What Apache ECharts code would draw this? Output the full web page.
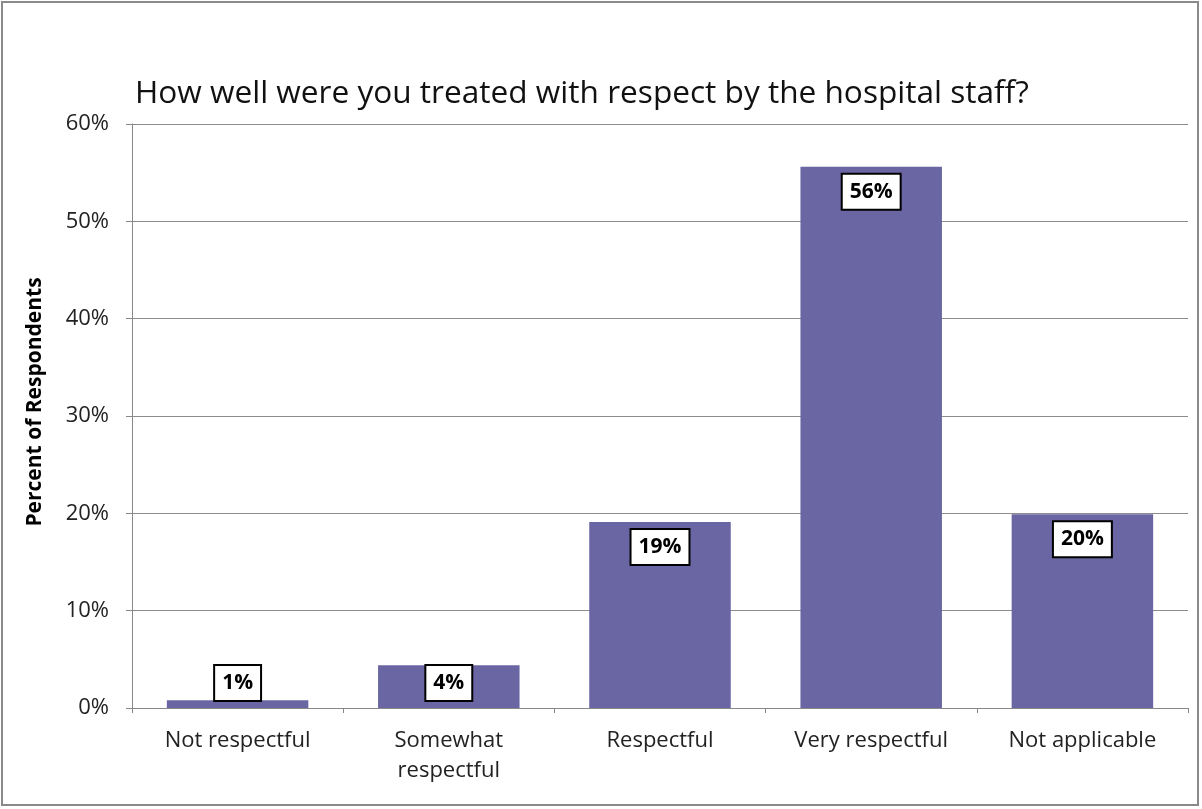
<!DOCTYPE html>
<html>
<head>
<meta charset="utf-8">
<script src="https://cdn.jsdelivr.net/npm/echarts@6/dist/echarts.min.js"></script>
<style>
html,body{margin:0;padding:0;background:#fff;}
#chart{width:1202px;height:809px;}
</style>
</head>
<body>
<div id="chart"></div>
<script>
const titleText = 'How well were you treated with respect by the hospital staff?';
const categories = ['Not respectful', 'Somewhat\nrespectful', 'Respectful', 'Very respectful', 'Not applicable'];
const percentValues = [0.8, 4.4, 19.1, 55.6, 19.9];
const yTicks = { min: 0, max: 60, interval: 10 };
const yAxisName = 'Percent of Respondents';

const FONT = '"Open Sans", "Liberation Sans", sans-serif';
const chart = echarts.init(document.getElementById('chart'));

const labelBase = {
  show: true,
  formatter: p => Math.round(p.value) + '%',
  color: '#000',
  fontFamily: FONT,
  fontWeight: 'bold',
  fontSize: 21,
  lineHeight: 24,
  backgroundColor: '#fff',
  borderColor: '#000',
  borderWidth: 2,
  padding: [5, 7, 5, 7]
};

const seriesData = percentValues.map(v => ({
  value: v,
  label: v < 8 ? { position: 'insideBottom', distance: 8 } : { position: 'insideTop', distance: 8 }
}));

chart.setOption({
  backgroundColor: '#fff',
  animation: false,
  title: {
    text: titleText,
    left: 577,
    textAlign: 'center',
    top: 73,
    textStyle: { fontFamily: FONT, fontSize: 31.6, fontWeight: 'normal', color: '#111' }
  },
  graphic: [{
    type: 'rect',
    shape: { x: 2, y: 2, width: 1196, height: 803 },
    style: { fill: 'none', stroke: '#8a8a8a', lineWidth: 2 },
    silent: true
  }],
  grid: { left: 132, right: 14, top: 124, bottom: 101, containLabel: false },
  xAxis: {
    type: 'category',
    data: categories,
    axisLine: { lineStyle: { color: '#888', width: 1 } },
    axisTick: { show: true, alignWithLabel: false, length: 5, lineStyle: { color: '#888' } },
    axisLabel: { fontFamily: FONT, fontSize: 22, color: '#222', margin: 18, lineHeight: 30, interval: 0 }
  },
  yAxis: {
    type: 'value',
    min: yTicks.min,
    max: yTicks.max,
    interval: yTicks.interval,
    name: yAxisName,
    nameLocation: 'middle',
    nameGap: 86,
    nameTextStyle: { fontFamily: FONT, fontSize: 21, fontWeight: 'bold', color: '#000', padding: [0, 0, 0, 28] },
    axisLine: { show: true, lineStyle: { color: '#888' } },
    axisTick: { show: true, length: 6, lineStyle: { color: '#888' } },
    axisLabel: { formatter: '{value}%', fontFamily: FONT, fontSize: 22, color: '#222', margin: 23 },
    splitLine: { show: true, lineStyle: { color: '#8c8c8c', width: 1 } }
  },
  series: [{
    type: 'bar',
    data: seriesData,
    barCategoryGap: '33%',
    itemStyle: { color: '#6a66a3' },
    label: labelBase
  }]
});
</script>
</body>
</html>
